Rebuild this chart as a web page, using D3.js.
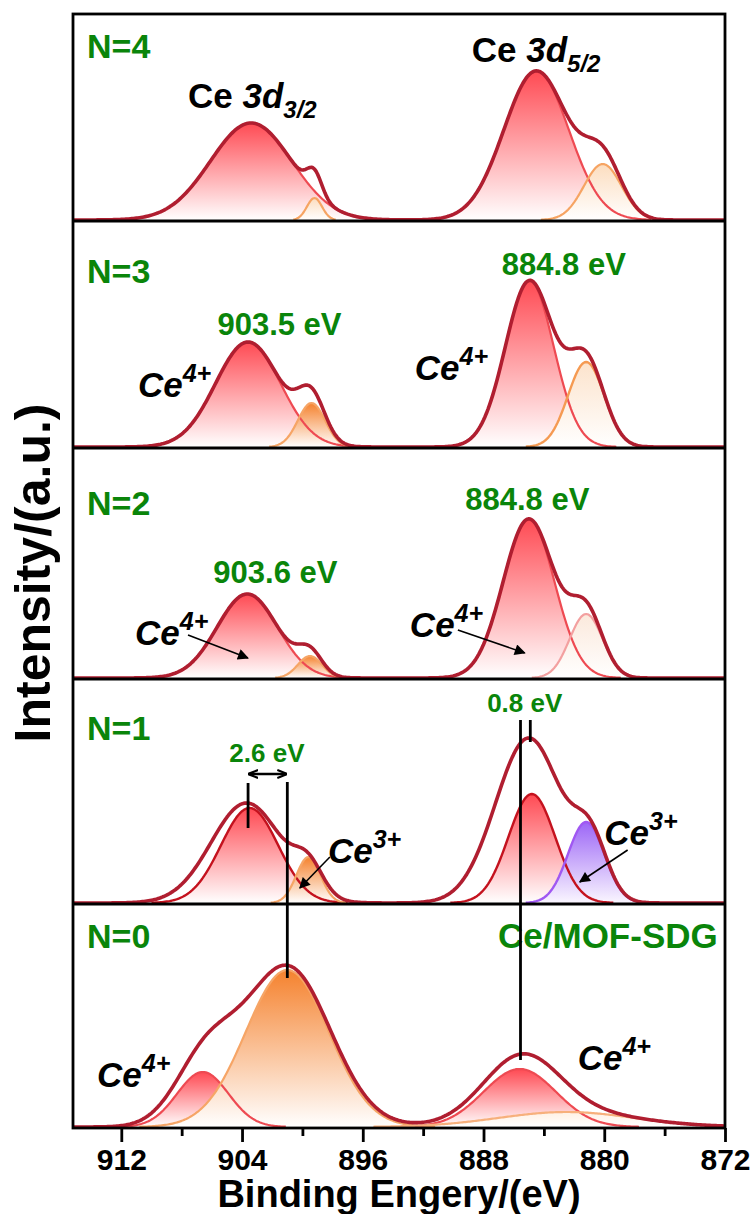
<!DOCTYPE html>
<html>
<head>
<meta charset="utf-8">
<script src="https://cdn.jsdelivr.net/npm/d3@7"></script>
<style>
  html, body { margin: 0; padding: 0; background: #fff; }
  svg text { font-family: "Liberation Sans", Arial, Helvetica, sans-serif; font-weight: bold; }
</style>
</head>
<body>
<svg id="chart" width="755" height="1214"></svg>
<script>
// ---------------- DATA ----------------
// x axis (binding energy, eV)
const energyTicks = [912, 904, 896, 888, 880, 872];
const minorTicks = [908, 900, 892, 884, 876];
const energyRange = [915.2, 872];

// panels from top to bottom
const panelNames = ["N=4", "N=3", "N=2", "N=1", "N=0"];

// fitted components: [centre eV, height a.u., sigma eV]
const peaksN4 = [[903.4, 97, 2.7], [899.2, 22, 0.5], [884.5, 149, 2.15], [880.1, 56, 1.25]];
const peaksN3 = [[903.6, 105, 2.15], [899.4, 44, 0.9], [884.95, 166, 1.6], [881.2, 85, 1.2]];
const peaksN2 = [[903.65, 84, 2.0], [899.5, 22, 0.8], [885.0, 159, 1.7], [881.2, 64, 1.1]];
const peaksN1 = [[903.5, 95, 1.9], [899.6, 46, 0.8], [884.8, 109, 1.55], [881.2, 81, 1.2]];
const peaksN0 = [[906.6, 55, 1.7], [901.0, 157, 2.75], [885.6, 58, 2.4], [882.5, 15, 4.5]];

// envelopes that are not the plain sum of the drawn components
const envelopeN1 = [[903.7, 100, 2.35], [899.6, 28, 0.95], [885.0, 165, 2.2], [880.9, 54, 1.1]];
const envelopeN0 = [[906.4, 65, 2.0], [901.0, 160, 2.85], [885.5, 61, 2.5], [882.5, 15, 4.5]];

// ---------------- STYLE / LAYOUT ----------------
const panelPeaks = [peaksN4, peaksN3, peaksN2, peaksN1, peaksN0];
const panelEnvelopes = [peaksN4, peaksN3, peaksN2, envelopeN1, envelopeN0];
const panelStyles = [
  ["red", "orangeLight", "red", "orangeLight"],
  ["red", "orange", "red", "orangeSoft"],
  ["red", "orange", "red", "pink"],
  ["redDark", "orange", "redDark", "purple"],
  ["red", "orange", "red", "orangeFaint"]
];
const styles = {
  red:         { line: "#EE4A52", lw: 2.2, top: "#FF4A53", bottom: "#FFFFFF" },
  redDark:     { line: "#C4121E", lw: 2.4, top: "#FF4A53", bottom: "#FFFFFF" },
  orange:      { line: "#F6A566", lw: 2.2, top: "#F5822E", bottom: "#FFFFFF" },
  orangeSoft:  { line: "#F59A52", lw: 2.4, top: "#FCE3CC", bottom: "#FFFFFF" },
  orangeLight: { line: "#F6A463", lw: 2.2, top: "#FCDDBF", bottom: "#FFFFFF" },
  orangeFaint: { line: "#F7B07C", lw: 2.2, top: "#FFF1E4", bottom: "#FFFFFF" },
  pink:        { line: "#F3A0A0", lw: 2.2, top: "#FBE9DC", bottom: "#FFFFFF" },
  purple:      { line: "#A058F2", lw: 2.4, top: "#9C66F6", bottom: "#FAF6FF" }
};
const envColor = "#B01E30";
const green = "#0A850A";

const L = 73, R = 725;
const panelTop = [14, 221, 448, 679, 904];
const panelBottom = [221, 448, 679, 904, 1128];

const svg = d3.select("#chart");
const x = d3.scaleLinear().domain(energyRange).range([L, R]);
const yScales = panelBottom.map(b => d3.scaleLinear().domain([0, 200]).range([b - 1, b - 201]));

// gradients
const defs = svg.append("defs");
Object.entries(styles).forEach(([k, s]) => {
  const g = defs.append("linearGradient").attr("id", "g-" + k)
    .attr("x1", 0).attr("y1", 0).attr("x2", 0).attr("y2", 1);
  g.append("stop").attr("offset", "0%").attr("stop-color", s.top);
  g.append("stop").attr("offset", "100%").attr("stop-color", s.bottom);
});
// arrow markers
defs.append("marker").attr("id", "arrow").attr("viewBox", "0 0 10 10")
  .attr("refX", 9).attr("refY", 5).attr("markerWidth", 17).attr("markerHeight", 11)
  .attr("markerUnits", "userSpaceOnUse").attr("orient", "auto")
  .append("path").attr("d", "M0,0 L10,5 L0,10 Z").attr("fill", "#000");
defs.append("marker").attr("id", "arrow2").attr("viewBox", "0 0 10 10")
  .attr("refX", 9).attr("refY", 5).attr("markerWidth", 10).attr("markerHeight", 10)
  .attr("markerUnits", "userSpaceOnUse").attr("orient", "auto-start-reverse")
  .append("path").attr("d", "M0,1 L10,5 L0,9").attr("fill", "none").attr("stroke", "#000").attr("stroke-width", 2.2);

// sampling grid for the peak model
const grid = d3.range(energyRange[0], energyRange[1] - 0.001, -0.1);
const gauss = (e, p) => p[1] * Math.exp(-0.5 * Math.pow((e - p[0]) / p[2], 2));

panelPeaks.forEach((peaks, i) => {
  const y = yScales[i];
  const g = svg.append("g");
  const area = d3.area().x(d => x(d.e)).y0(y(0)).y1(d => y(d.v)).defined(d => d.v > 0.25);
  const line = d3.line().x(d => x(d.e)).y(d => y(d.v)).defined(d => d.v > 0.25);
  const comps = peaks.map((p, j) => ({ style: panelStyles[i][j], pts: grid.map(e => ({ e, v: gauss(e, p) })) }));
  comps.forEach(c => {
    g.append("path").attr("d", area(c.pts)).attr("fill", "url(#g-" + c.style + ")");
  });
  comps.forEach(c => {
    const s = styles[c.style];
    g.append("path").attr("d", line(c.pts)).attr("fill", "none")
      .attr("stroke", s.line).attr("stroke-width", s.lw).attr("stroke-linejoin", "round");
  });
  const env = panelEnvelopes[i];
  const envPts = grid.map(e => ({ e, v: d3.sum(env, p => gauss(e, p)) }));
  const envLine = d3.line().x(d => x(d.e)).y(d => y(d.v));
  g.append("path").attr("d", envLine(envPts)).attr("fill", "none")
    .attr("stroke", envColor).attr("stroke-width", 3.6).attr("stroke-linejoin", "round");
});

// ---------------- FRAME & AXES ----------------
const frame = svg.append("g").attr("stroke", "#000").attr("stroke-width", 2.8).attr("fill", "none");
frame.append("rect").attr("x", L).attr("y", panelTop[0]).attr("width", R - L).attr("height", panelBottom[4] - panelTop[0]);
panelBottom.slice(0, 4).forEach(b => frame.append("line").attr("x1", L).attr("x2", R).attr("y1", b).attr("y2", b));

const xAxis = d3.axisBottom(x).tickValues(energyTicks).tickSize(14).tickPadding(7).tickFormat(d3.format("d"));
const ax = svg.append("g").attr("transform", `translate(0,${panelBottom[4]})`).call(xAxis);
ax.select(".domain").remove();
ax.selectAll(".tick line").attr("stroke", "#000").attr("stroke-width", 2.8);
ax.selectAll(".tick text").attr("font-size", 30).attr("fill", "#000")
  .attr("font-family", "Liberation Sans, Arial, sans-serif").attr("font-weight", "bold");
const minorAxis = d3.axisBottom(x).tickValues(minorTicks).tickSize(8).tickFormat("");
const mx = svg.append("g").attr("transform", `translate(0,${panelBottom[4]})`).call(minorAxis);
mx.select(".domain").remove();
mx.selectAll(".tick line").attr("stroke", "#000").attr("stroke-width", 2.8);

svg.append("text").attr("x", (L + R) / 2).attr("y", 1207).attr("text-anchor", "middle")
  .attr("font-size", 38).attr("fill", "#000").text("Binding Engery/(eV)");
svg.append("text").attr("transform", "translate(50,573) rotate(-90)").attr("text-anchor", "middle")
  .attr("font-size", 50).attr("fill", "#000").text("Intensity/(a.u.)");

// ---------------- ANNOTATIONS ----------------
function place(p, e, v) { return [x(e), yScales[p](v)]; }
function label(p, e, v, anchor, size, color, parts) {
  const [px, py] = place(p, e, v);
  const t = svg.append("text").attr("x", px).attr("y", py).attr("text-anchor", anchor)
    .attr("font-size", size).attr("fill", color);
  parts.forEach(q => {
    const ts = t.append("tspan").text(q.t);
    if (q.italic) ts.attr("font-style", "italic");
    if (q.size) ts.attr("font-size", q.size);
    if (q.dy) ts.attr("dy", q.dy);
  });
  return t;
}
const ceIon = (ch) => [{ t: "Ce", italic: true }, { t: ch, italic: true, size: 25, dy: -15 }];

// panel names
const nameSpots = [[914.27, 162], [914.27, 164], [914.27, 163], [914.27, 163], [914.27, 179]];
panelNames.forEach((n, i) => label(i, nameSpots[i][0], nameSpots[i][1], "start", 34, green, [{ t: n }]));

// N=4
label(0, 907.58, 112, "start", 35, "#000", [{ t: "Ce " }, { t: "3d", italic: true }, { t: "3/2", italic: true, size: 24, dy: 10 }]);
label(0, 888.78, 158, "start", 35, "#000", [{ t: "Ce " }, { t: "3d", italic: true }, { t: "5/2", italic: true, size: 24, dy: 10 }]);
// N=3
label(1, 901.52, 112, "middle", 31, green, [{ t: "903.5 eV" }]);
label(1, 882.68, 172, "middle", 31, green, [{ t: "884.8 eV" }]);
label(1, 910.9, 50, "start", 35, "#000", ceIon("4+"));
label(1, 892.55, 67, "start", 35, "#000", ceIon("4+"));
// N=2
label(2, 901.79, 95, "middle", 31, green, [{ t: "903.6 eV" }]);
label(2, 885.1, 168, "middle", 31, green, [{ t: "884.8 eV" }]);
label(2, 911.09, 33, "start", 35, "#000", ceIon("4+"));
label(2, 892.88, 41, "start", 35, "#000", ceIon("4+"));
// N=1
label(3, 902.35, 141, "middle", 26, green, [{ t: "2.6 eV" }]);
label(3, 885.27, 191, "middle", 26, green, [{ t: "0.8 eV" }]);
label(3, 898.31, 40, "start", 35, "#000", ceIon("3+"));
label(3, 880.0, 58, "start", 35, "#000", ceIon("3+"));
// N=0
label(4, 872.48, 179, "end", 35, green, [{ t: "Ce/MOF-SDG" }]);
label(4, 913.61, 40, "start", 35, "#000", ceIon("4+"));
label(4, 881.76, 57, "start", 35, "#000", ceIon("4+"));

// arrows [panel, e1, v1, e2, v2]
const arrows = [[2, 907.58, 43, 903.61, 20], [2, 889.7, 48, 885.27, 25], [3, 898.18, 46, 900.17, 15], [3, 878.45, 53, 881.62, 21]];
arrows.forEach(a => {
  const [x1, y1] = place(a[0], a[1], a[2]);
  const [x2, y2] = place(a[0], a[3], a[4]);
  svg.append("line").attr("x1", x1).attr("y1", y1).attr("x2", x2).attr("y2", y2)
    .attr("stroke", "#000").attr("stroke-width", 1.6).attr("marker-end", "url(#arrow)");
});
// 2.6 eV double arrow
{
  const [x1, y1] = place(3, 903.6, 129), [x2] = place(3, 901.0, 129);
  svg.append("line").attr("x1", x1 + 1).attr("y1", y1).attr("x2", x2 - 1).attr("y2", y1)
    .attr("stroke", "#000").attr("stroke-width", 2.4)
    .attr("marker-start", "url(#arrow2)").attr("marker-end", "url(#arrow2)");
}
// guide lines [e, panelA, vA, panelB, vB]
const guides = [[903.6, 3, 120, 3, 75], [901.0, 3, 121, 4, 149], [885.55, 3, 183, 4, 67], [884.9, 3, 183, 3, 161]];
guides.forEach(gd => {
  svg.append("line").attr("x1", x(gd[0])).attr("x2", x(gd[0]))
    .attr("y1", yScales[gd[1]](gd[2])).attr("y2", yScales[gd[3]](gd[4]))
    .attr("stroke", "#000").attr("stroke-width", 2.8);
});
</script>
</body>
</html>
